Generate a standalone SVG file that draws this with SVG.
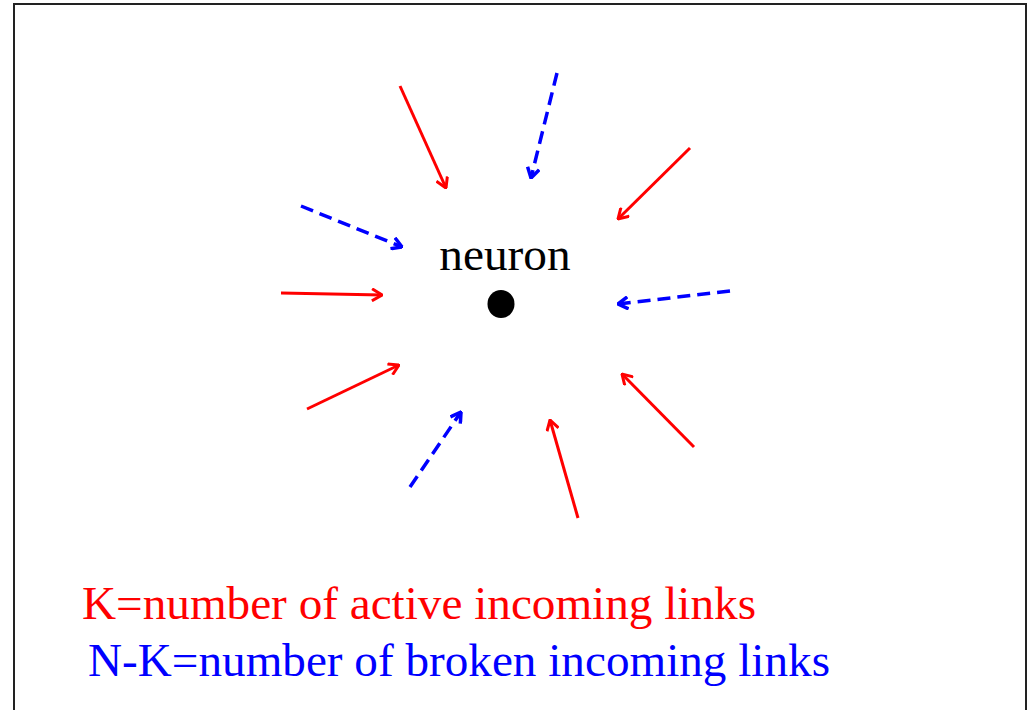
<svg xmlns="http://www.w3.org/2000/svg" width="1032" height="710" viewBox="0 0 1032 710">
<style>
.txt{font-family:"Liberation Serif","Times New Roman",serif;font-size:47.3px}
.act{stroke:#ff0000;stroke-width:3;fill:none;marker-end:url(#ahR)}
.brk{stroke:#0000ff;stroke-width:3.5;fill:none;stroke-dasharray:13 7;marker-end:url(#ahB)}
</style>
<defs>
<marker id="ahR" markerUnits="userSpaceOnUse" viewBox="0 0 12 14" refX="11" refY="7" markerWidth="12" markerHeight="14" orient="auto">
<path d="M1,1 L11,7 L1,13" fill="none" stroke="#ff0000" stroke-width="3"/>
</marker>
<marker id="ahB" markerUnits="userSpaceOnUse" viewBox="0 0 12 14" refX="11" refY="7" markerWidth="12" markerHeight="14" orient="auto">
<path d="M1,1 L11,7 L1,13" fill="none" stroke="#0000ff" stroke-width="3.5"/>
</marker>
</defs>
<rect x="0" y="0" width="1032" height="710" fill="#ffffff"/>
<rect x="14" y="4" width="1012" height="730" fill="none" stroke="#222222" stroke-width="2"/>
<g id="neuron">
<text class="txt" x="505" y="270" text-anchor="middle" fill="#000000">neuron</text>
<ellipse cx="501" cy="304" rx="13.5" ry="14" fill="#000000"/>
</g>
<g id="connectors">
<line class="act" x1="400" y1="86" x2="446" y2="188"/>
<line class="brk" x1="557" y1="73" x2="531" y2="178"/>
<line class="act" x1="690" y1="148" x2="618" y2="219"/>
<line class="brk" x1="301" y1="206" x2="402" y2="247"/>
<line class="act" x1="281" y1="293" x2="382" y2="295"/>
<line class="brk" x1="730" y1="291" x2="618" y2="304"/>
<line class="act" x1="307" y1="409" x2="399" y2="365"/>
<line class="brk" x1="410" y1="487" x2="461" y2="412"/>
<line class="act" x1="578" y1="518" x2="550" y2="420"/>
<line class="act" x1="694" y1="447" x2="622" y2="374"/>
</g>
<g id="legend">
<text class="txt" x="82" y="619" fill="#ff0000" textLength="674" lengthAdjust="spacingAndGlyphs">K=number of active incoming links</text>
<text class="txt" x="88" y="676" fill="#0000ff" textLength="742" lengthAdjust="spacingAndGlyphs">N-K=number of broken incoming links</text>
</g>
</svg>
